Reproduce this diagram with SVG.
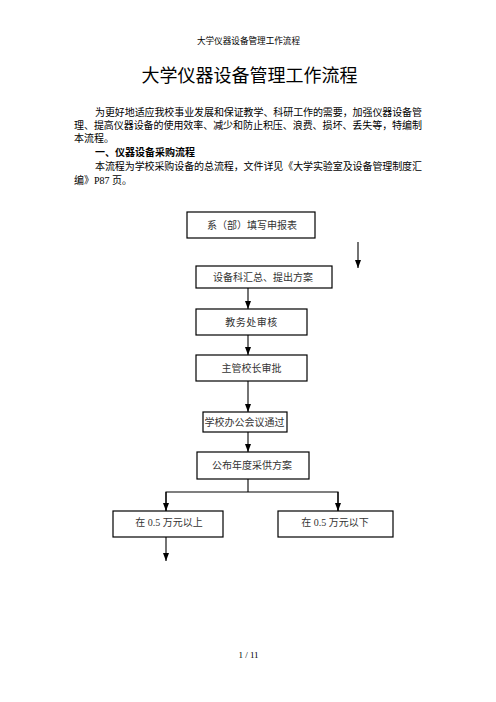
<svg xmlns="http://www.w3.org/2000/svg" width="496" height="702" viewBox="0 0 496 702">
<style>
.serif{font-family:"Liberation Serif","Noto Sans CJK SC",serif;fill:#000}
.sans{font-family:"Noto Sans CJK SC","Liberation Sans",sans-serif;fill:#000}
.box{fill:#fff;stroke:#000;stroke-width:1.2}
.ln{fill:none;stroke:#000;stroke-width:1.1}
.bt{font-family:"Liberation Serif","Noto Sans CJK SC",serif;font-size:10px;fill:#333;text-anchor:middle;dominant-baseline:central}
</style>
<defs>
<marker id="ah" viewBox="0 0 8 8" refX="8" refY="4" markerWidth="8" markerHeight="8" markerUnits="userSpaceOnUse" orient="auto">
<path d="M0,1 L8,4 L0,7 Z" fill="#000"/>
</marker>
</defs>
<rect width="496" height="702" fill="#fff"/>
<text class="serif" x="248.5" y="44" font-size="8.6" text-anchor="middle" fill="#333">大学仪器设备管理工作流程</text>
<text class="sans" x="249.5" y="82" font-size="18" text-anchor="middle">大学仪器设备管理工作流程</text>
<g class="serif" font-size="10">
<text x="95" y="115.5" textLength="327" lengthAdjust="spacing">为更好地适应我校事业发展和保证教学、科研工作的需要，加强仪器设备管</text>
<text x="74" y="129" textLength="348" lengthAdjust="spacing">理、提高仪器设备的使用效率、减少和防止积压、浪费、损坏、丢失等，特编制</text>
<text x="74" y="142">本流程。</text>
<text x="95" y="156" font-family="Noto Sans CJK SC,sans-serif" font-weight="bold">一、仪器设备采购流程</text>
<text x="95" y="170" textLength="327" lengthAdjust="spacing">本流程为学校采购设备的总流程，文件详见《大学实验室及设备管理制度汇</text>
<text x="74" y="184">编》P87 页。</text>
</g>
<g id="connectors">
<line class="ln" x1="358" y1="242" x2="358" y2="268" marker-end="url(#ah)"/>
<line class="ln" x1="248" y1="288" x2="248" y2="309" marker-end="url(#ah)"/>
<line class="ln" x1="248" y1="335" x2="248" y2="355" marker-end="url(#ah)"/>
<line class="ln" x1="248" y1="381" x2="248" y2="412" marker-end="url(#ah)"/>
<line class="ln" x1="248" y1="432" x2="248" y2="452" marker-end="url(#ah)"/>
<polyline class="ln" points="248,479 248,492"/>
<polyline class="ln" points="166,511 166,492 338,492 338,511" stroke-linejoin="miter"/>
<line class="ln" x1="166" y1="492" x2="166" y2="511" marker-end="url(#ah)"/>
<line class="ln" x1="338" y1="492" x2="338" y2="511" marker-end="url(#ah)"/>
<line class="ln" x1="166" y1="537" x2="166" y2="561" marker-end="url(#ah)"/>
</g>
<g id="n1"><rect class="box" x="187" y="212" width="128" height="26"/><text class="bt" x="252" y="225">系（部）填写申报表</text></g>
<g id="n2"><rect class="box" x="196" y="266" width="136" height="22"/><text class="bt" x="263" y="277">设备科汇总、提出方案</text></g>
<g id="n3"><rect class="box" x="196" y="309" width="111" height="26"/><text class="bt" x="251.5" y="322" letter-spacing="0.5">教务处审核</text></g>
<g id="n4"><rect class="box" x="196" y="355" width="111" height="26"/><text class="bt" x="251.5" y="368">主管校长审批</text></g>
<g id="n5"><rect class="box" x="203" y="412" width="84" height="20"/><text class="bt" x="244.5" y="422" font-size="9">学校办公会议通过</text></g>
<g id="n6"><rect class="box" x="197" y="452" width="112" height="27"/><text class="bt" x="252" y="465.5" font-size="10.3">公布年度采供方案</text></g>
<g id="n7"><rect class="box" x="113" y="511" width="110" height="26"/><text class="bt" x="169" y="522" font-family="Noto Sans CJK SC,sans-serif" font-size="9.5">在 0.5 万元以上</text></g>
<g id="n8"><rect class="box" x="278" y="511" width="115" height="26"/><text class="bt" x="335" y="522" font-family="Noto Sans CJK SC,sans-serif" font-size="9.5">在 0.5 万元以下</text></g>
<text class="serif" x="248.5" y="658" font-size="9" text-anchor="middle">1 / 11</text>
</svg>
